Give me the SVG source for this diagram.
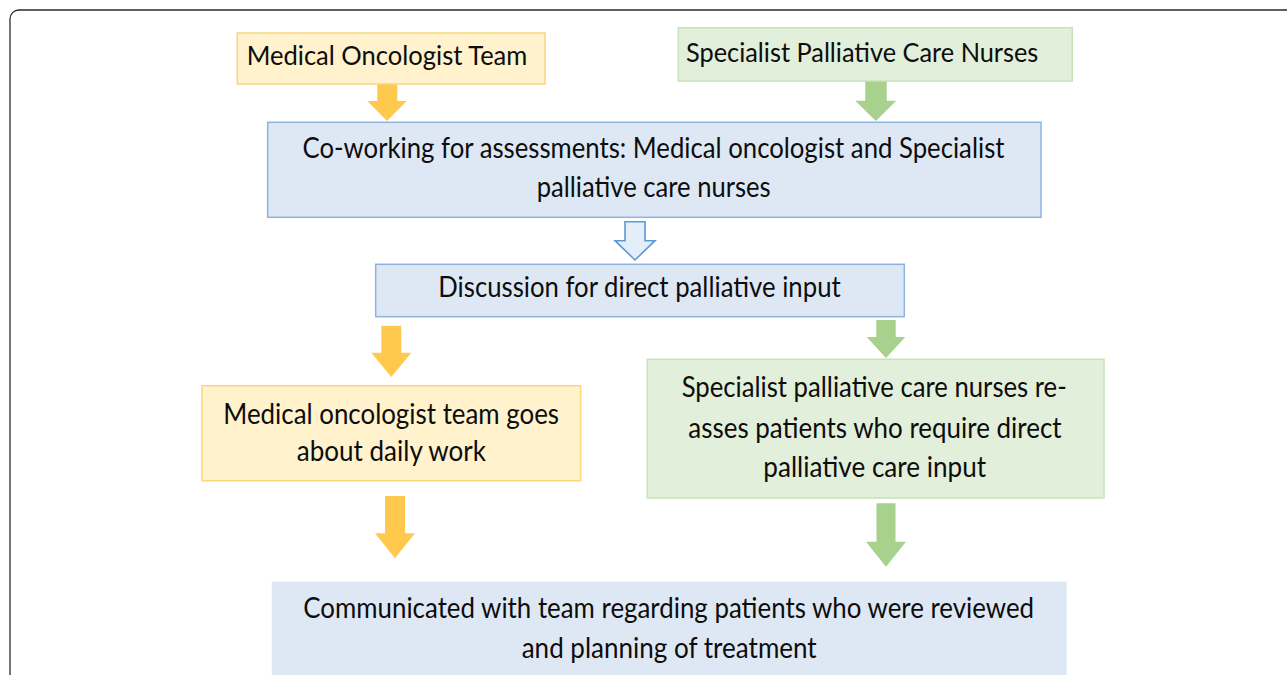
<svg xmlns="http://www.w3.org/2000/svg" width="1287" height="675" viewBox="0 0 1287 675">
  <style>
    .frame { fill: #ffffff; stroke: #2b2b2b; stroke-width: 1.3; }
    .yellow { fill: #fff2cc; stroke: #f7d67c; stroke-width: 1.5; }
    .green { fill: #e2efda; stroke: #c8e2b8; stroke-width: 1.5; }
    .blue { fill: #dee8f5; stroke: #8fb3e0; stroke-width: 1.5; }
    .arrow-y { fill: #ffc94d; }
    .arrow-g { fill: #a9d18e; }
    .arrow-b { fill: #e4eef9; stroke: #5f98d3; stroke-width: 1.6; stroke-linejoin: miter; }
    text { font-family: Lato, "Open Sans", "Liberation Sans", sans-serif; fill: #0d0d0d; text-anchor: middle; }
    .t { font-size: 28.5px; }
    .s { font-size: 26.5px; }
  </style>

  <!-- outer panel -->
  <rect class="frame" x="10" y="10" width="1300" height="700" rx="9" ry="9"/>

  <!-- connectors: block arrows -->
  <g id="connectors">
    <path class="arrow-y" d="M377.3,84 H397.3 V101 H406.7 L387,121 L367.3,101 H377.3 Z"/>
    <path class="arrow-g" d="M865.3,81 H886.7 V100.7 H896.3 L875.8,121 L855.3,100.7 H865.3 Z"/>
    <path class="arrow-b" d="M625,221.7 H645 V240.7 H655 L635,260 L615,240.7 H625 Z"/>
    <path class="arrow-y" d="M381.3,325.7 H401.3 V352.7 H411.3 L391.3,377 L371.3,352.7 H381.3 Z"/>
    <path class="arrow-g" d="M876.3,320 H895.7 V337 H905.3 L886,358 L866.7,337 H876.3 Z"/>
    <path class="arrow-y" d="M385,496 H405 V533.3 H415 L395,558.3 L375,533.3 H385 Z"/>
    <path class="arrow-g" d="M876.5,503.3 H895.5 V541.7 H906 L886,566.7 L866,541.7 H876.5 Z"/>
  </g>

  <g id="medical-oncologist-team">
    <rect class="yellow" x="237.3" y="33" width="307.7" height="51"/>
    <text class="s" x="387" y="65" textLength="280.7" lengthAdjust="spacingAndGlyphs">Medical Oncologist Team</text>
  </g>

  <g id="specialist-nurses">
    <rect class="green" x="678.3" y="27.7" width="394" height="53.3"/>
    <text class="s" x="862.2" y="61.7" textLength="352.3" lengthAdjust="spacingAndGlyphs">Specialist Palliative Care Nurses</text>
  </g>

  <g id="co-working">
    <rect class="blue" x="267.7" y="122.3" width="773.3" height="95"/>
    <text class="t" x="653.5" y="157.7" textLength="702" lengthAdjust="spacingAndGlyphs">Co-working for assessments: Medical oncologist and Specialist</text>
    <text class="t" x="653.7" y="196.7" textLength="234" lengthAdjust="spacingAndGlyphs">palliative care nurses</text>
  </g>

  <g id="discussion">
    <rect class="blue" x="375.7" y="264.3" width="528.6" height="52.4"/>
    <text class="t" x="639.5" y="297.3" textLength="402.4" lengthAdjust="spacingAndGlyphs">Discussion for direct palliative input</text>
  </g>

  <g id="oncologist-daily-work">
    <rect class="yellow" x="202" y="385.7" width="378.7" height="95"/>
    <text class="t" x="391.2" y="424" textLength="335.7" lengthAdjust="spacingAndGlyphs">Medical oncologist team goes</text>
    <text class="t" x="391.4" y="460.7" textLength="189.3" lengthAdjust="spacingAndGlyphs">about daily work</text>
  </g>

  <g id="nurses-reassess">
    <rect class="green" x="647.3" y="359.3" width="456.7" height="138.7"/>
    <text class="t" x="874.2" y="396.7" textLength="385" lengthAdjust="spacingAndGlyphs">Specialist palliative care nurses re-</text>
    <text class="t" x="875" y="438.3" textLength="373.3" lengthAdjust="spacingAndGlyphs">asses patients who require direct</text>
    <text class="t" x="874.7" y="476.7" textLength="222.7" lengthAdjust="spacingAndGlyphs">palliative care input</text>
  </g>

  <g id="communicated">
    <rect class="blue" x="271.7" y="581.7" width="795" height="110" style="stroke:none"/>
    <text class="t" x="668.7" y="618.3" textLength="730.7" lengthAdjust="spacingAndGlyphs">Communicated with team regarding patients who were reviewed</text>
    <text class="t" x="669.2" y="658.3" textLength="295" lengthAdjust="spacingAndGlyphs">and planning of treatment</text>
  </g>
</svg>
